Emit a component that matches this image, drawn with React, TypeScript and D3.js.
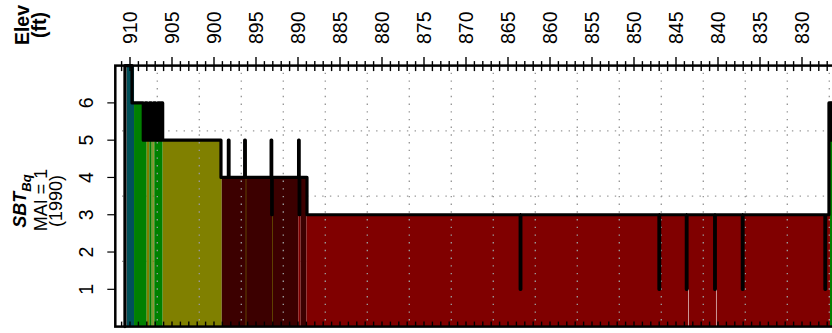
import React from "react";
import * as d3 from "d3";

// ---- data ----
const elevTickLabels = [910, 905, 900, 895, 890, 885, 880, 875, 870, 865, 860, 855, 850, 845, 840, 835, 830];
const sbtTickLabels = [1, 2, 3, 4, 5, 6];
const gridSbt = [1.75, 3.5, 5.25];
const gridElev = [906.75, 901.75, 896.75, 891.75, 886.75, 881.75, 876.75, 871.75, 866.75, 861.75, 856.75, 851.75, 846.75, 841.75, 836.75, 831.75, 826.75];

// step profile: [elevation (ft), SBT zone] — value holds until next elevation
const sbtProfile: [number, number][] = [
  [910.6, 0], [910.6, 7], [909.76, 6], [908.42, 5], [908.2, 6], [907.95, 5], [907.7, 6],
  [907.45, 5], [907.2, 6], [906.95, 5], [906.7, 6], [906.45, 5], [906.3, 6], [906.11, 5],
  [899.17, 4], [898.29, 5], [898.21, 4], [896.35, 5], [896.27, 4], [893.2, 5], [893.13, 3],
  [893.07, 4], [889.93, 5], [889.86, 3], [889.79, 4], [888.93, 3], [863.55, 1], [863.47, 3],
  [847.03, 1], [846.95, 3], [843.77, 1], [843.69, 3], [840.4, 1], [840.32, 3], [837.1, 1],
  [837.02, 3], [827.27, 1], [827.19, 3], [826.79, 6], [826.62, 5], [826.5, 6], [826.38, 5],
  [821.75, 5],
];

// filled zone bands: [top elev, bottom elev, zone]
const zoneBands: [number, number, number][] = [
  [910.39, 909.52, 7],
  [909.52, 908.01, 6],
  [908.01, 907.7, 5],
  [907.7, 907.42, 6],
  [907.42, 907.3, 5],
  [907.3, 907.23, 6],
  [907.23, 907.11, 5],
  [907.11, 906.11, 6],
  [906.11, 899.08, 5],
  [899.08, 889.96, 4],
  [889.96, 889.68, 3],
  [889.68, 889.0, 4],
  [889.0, 826.67, 3],
  [896.22, 896.16, 5],
  [893.04, 892.98, 5],
  [843.57, 843.5, 1],
  [840.24, 840.17, 1],
  [826.67, 821.75, 6],
];

const zoneColors: Record<number, string> = {
  1: "#ffffff",
  3: "#800000",
  4: "#3c0000",
  5: "#808000",
  6: "#008000",
  7: "#00505a",
};

const W = 832;
const H = 333;
const FONT = "'Liberation Sans', Arial, sans-serif";
const FS = 19.5;
const TFS = 18;

export default function App() {
  const x = d3.scaleLinear().domain([911.75, 821.75]).range([115.3, 871.3]);
  const y = d3.scaleLinear().domain([0, 7]).range([326.6, 65.6]);
  const [x0, x1] = x.range();
  const [yb, yt] = y.range();

  const line = d3
    .line<[number, number]>()
    .x((d) => x(d[0]))
    .y((d) => y(d[1]))
    .curve(d3.curveStepAfter);

  const minorTicks = d3.range(911, 821, -1);

  return (
    <svg width={W} height={H} style={{ position: "absolute", left: 0, top: 0, background: "#fff" }}>
      <defs>
        <clipPath id="plot">
          <rect x={x0} y={yt} width={x1 - x0} height={yb - yt} />
        </clipPath>
      </defs>
      <rect x={0} y={0} width={W} height={H} fill="#fff" />

      {/* horizontal grid beneath fills */}
      <g clipPath="url(#plot)">
        {gridSbt.map((v) => (
          <line key={"h" + v} x1={x0} x2={x1} y1={y(v)} y2={y(v)} stroke="#999" strokeWidth={1.4}
            strokeDasharray="1.4 6.3" strokeDashoffset={1.0} />
        ))}
        {zoneBands.map(([e1, e2, z], i) => (
          <rect key={"b" + i} x={x(e1)} width={x(e2) - x(e1)} y={y(z)} height={y(0) - y(z)} fill={zoneColors[z]} />
        ))}
        {gridElev.map((e) => (
          <line key={"v" + e} x1={x(e)} x2={x(e)} y1={yt} y2={yb} stroke="#999" strokeWidth={1.4}
            strokeDasharray="1.4 6.3" strokeDashoffset={0.6} />
        ))}
      </g>

      <path d={line(sbtProfile) || ""} fill="none" stroke="#000" strokeWidth={3.2}
        strokeLinejoin="round" strokeLinecap="round" />

      {/* frame */}
      <rect x={x0} y={yt} width={x1 - x0} height={yb - yt} fill="none" stroke="#000" strokeWidth={2.5} />

      {/* top axis ticks */}
      {minorTicks.map((e) => {
        const major = e % 5 === 0;
        return (
          <g key={"t" + e}>
            <line x1={x(e)} x2={x(e)} y1={yt} y2={yt - (major ? 8.5 : 4.5)} stroke="#000" strokeWidth={1.4} />
            <line x1={x(e)} x2={x(e)} y1={yt} y2={yt + 5.5} stroke="#000" strokeWidth={1.4} />
            <line x1={x(e)} x2={x(e)} y1={yb} y2={yb - 5} stroke="#000" strokeWidth={1.4} />
          </g>
        );
      })}
      {elevTickLabels.map((e) => (
        <text key={"l" + e} transform={`translate(${x(e) + 7.2},44) rotate(-90)`} fontFamily={FONT}
          fontSize={FS} textAnchor="start">
          {e}
        </text>
      ))}

      {/* left axis */}
      {sbtTickLabels.map((v) => (
        <g key={"y" + v}>
          <line x1={x0 - 8} x2={x0} y1={y(v)} y2={y(v)} stroke="#000" strokeWidth={1.2} />
          <text transform={`translate(93,${y(v)}) rotate(-90)`} fontFamily={FONT} fontSize={FS}
            textAnchor="middle">
            {v}
          </text>
        </g>
      ))}

      {/* titles */}
      <text transform="translate(28.5,25) rotate(-90)" fontFamily={FONT} fontSize={FS} fontWeight="bold"
        textAnchor="middle">
        Elev
      </text>
      <text transform="translate(46,25) rotate(-90)" fontFamily={FONT} fontSize={FS} fontWeight="bold"
        textAnchor="middle">
        (ft)
      </text>
      <text transform="translate(26,201) rotate(-90)" fontFamily={FONT} fontSize={TFS} fontWeight="bold"
        fontStyle="italic" textAnchor="middle">
        SBT
        <tspan fontSize={13} dy={5}>Bq</tspan>
      </text>
      <text transform="translate(46.5,200) rotate(-90)" fontFamily={FONT} fontSize={TFS} textAnchor="middle">
        MAI = 1
      </text>
      <text transform="translate(62,201) rotate(-90)" fontFamily={FONT} fontSize={TFS} textAnchor="middle">
        (1990)
      </text>
    </svg>
  );
}
